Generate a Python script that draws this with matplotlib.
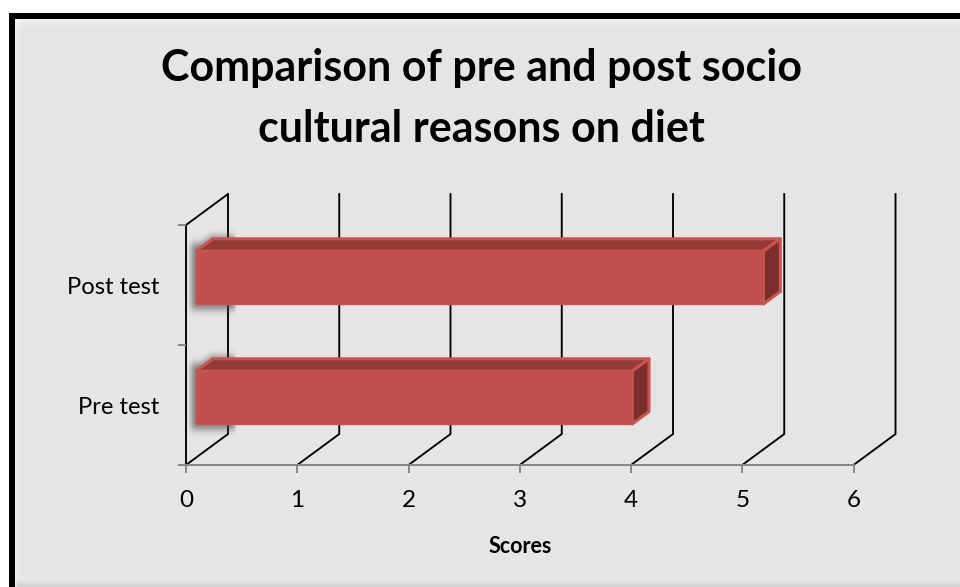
import numpy as np
import matplotlib
matplotlib.use("Agg")
import matplotlib.pyplot as plt
from matplotlib.patches import Polygon, Rectangle

# ---- data ----
categories = ["Pre test", "Post test"]
scores = [3.92, 5.10]
x_ticks = [0, 1, 2, 3, 4, 5, 6]
title = "Comparison of pre and post socio\ncultural reasons on diet"
x_label = "Scores"

# ---- style ----
W, H = 960, 587
BG = "#e5e5e5"
FRONT = "#c0504d"
TOP = "#943a38"
END = "#7b2e2d"
EDGE = "#c9534f"
GRID = "#000000"
AXIS_GREY = "#868686"
FONT = "Lato"

# depth of the 3-D box expressed in data units (x units, y units)
DX, DY = 0.3775, 0.258
F0, F1 = 0.24, 0.64           # front/back depth fractions of each bar
HALF = 0.22                   # half bar thickness (category units)

fig = plt.figure(figsize=(W / 100, H / 100), dpi=100, facecolor="white")

# chart frame: thick black border with a light grey body
def px_rect(x0, y0, x1, y1, **kw):
    r = Rectangle((x0 / W, 1 - y1 / H), (x1 - x0) / W, (y1 - y0) / H,
                  transform=fig.transFigure, zorder=-10, **kw)
    fig.patches.append(r)
    return r

px_rect(9, 13, W + 20, H + 20, facecolor="black", edgecolor="none")
px_rect(15, 19, W + 20, H + 20, facecolor=BG, edgecolor="none")
# soft bevel on the inner edge
for i, a in enumerate([0.55, 0.4, 0.28, 0.18, 0.1, 0.05]):
    px_rect(15, 19 + i * 1.4, W + 20, 20.4 + i * 1.4, facecolor="white",
            edgecolor="none", alpha=a)
    px_rect(15 + i * 1.2, 19, 16.2 + i * 1.2, 581, facecolor="white",
            edgecolor="none", alpha=a * 0.8)
for i, a in enumerate([0.04, 0.07, 0.1, 0.13, 0.16, 0.18]):
    px_rect(17, 581 + i, W + 20, 582 + i, facecolor="black",
            edgecolor="none", alpha=a * 0.5)

ax = fig.add_axes([186 / W, (H - 465) / H, 667.5 / W, 240 / H])
ax.set_facecolor("none")

y_lo, y_hi = -0.5, len(categories) - 0.5

# back wall gridlines running from the floor edge up the back plane
for xv in x_ticks:
    ax.plot([xv, xv + DX, xv + DX], [y_lo, y_lo + DY, y_hi + DY],
            color=GRID, lw=1.35, clip_on=False, zorder=1,
            solid_joinstyle="miter")
# side wall outline
ax.plot([0, 0, DX], [y_lo, y_hi, y_hi + DY], color=GRID, lw=1.35,
        clip_on=False, zorder=1, solid_joinstyle="miter")


def at(x, y, f):
    return (x + f * DX, y + f * DY)


def box_shadow(yc, v):
    # blurred shadow around the left end of each bar
    nx, ny = 120, 160
    xs = np.linspace(-0.15, 0.45, nx)
    ys = np.linspace(yc - HALF - 0.25, yc + HALF + DY + 0.1, ny)
    X, Y = np.meshgrid(xs, ys)
    sx, sy = -0.04, 0.0
    x0f, y0f = at(0, yc - HALF, F0)
    inside_front = (X >= x0f + sx) & (X <= v) & (Y >= y0f + sy - 0.05) & \
        (Y <= y0f + 2 * HALF + sy + 0.06)
    xt0, yt0 = at(0, yc + HALF, F0)
    t = (Y - (yt0 + sy)) / (DY * (F1 - F0))
    xl = xt0 + sx + t * DX * (F1 - F0)
    inside_top = (t >= 0) & (t <= 1.2) & (X >= xl)
    mask = (inside_front | inside_top).astype(float)
    k = np.ones(9) / 9
    for _ in range(3):
        mask = np.apply_along_axis(lambda r: np.convolve(r, k, "same"), 1, mask)
        mask = np.apply_along_axis(lambda c: np.convolve(c, k, "same"), 0, mask)
    rgba = np.zeros((ny, nx, 4))
    rgba[..., :3] = 0.3
    rgba[..., 3] = mask * 0.65
    ax.imshow(rgba, extent=(xs[0], xs[-1], ys[0], ys[-1]), origin="lower",
              aspect="auto", zorder=2, clip_on=False, interpolation="bilinear")


for yc, v in enumerate(scores):
    box_shadow(yc, v)
    lo, hi = yc - HALF, yc + HALF
    front = [at(0, lo, F0), at(v, lo, F0), at(v, hi, F0), at(0, hi, F0)]
    top = [at(0, hi, F0), at(v, hi, F0), at(v, hi, F1), at(0, hi, F1)]
    end = [at(v, lo, F0), at(v, lo, F1), at(v, hi, F1), at(v, hi, F0)]
    ax.add_patch(Polygon(top, closed=True, facecolor=TOP, edgecolor=EDGE,
                         lw=2.2, joinstyle="round", zorder=3, clip_on=False))
    ax.add_patch(Polygon(end, closed=True, facecolor=END, edgecolor=EDGE,
                         lw=2.2, joinstyle="round", zorder=3, clip_on=False))
    ax.add_patch(Polygon(front, closed=True, facecolor=FRONT, edgecolor=EDGE,
                         lw=1.0, joinstyle="round", zorder=4, clip_on=False))

ax.set_xlim(x_ticks[0], x_ticks[-1])
ax.set_ylim(y_lo, y_hi)

# axes and ticks
for s in ("top", "right"):
    ax.spines[s].set_visible(False)
ax.spines["bottom"].set_color(AXIS_GREY)
ax.spines["bottom"].set_linewidth(1.4)
ax.spines["left"].set_visible(False)

ax.set_xticks(x_ticks)
ax.set_xticklabels([str(t) for t in x_ticks], fontsize=17.5, family=FONT)
ax.tick_params(axis="x", direction="out", length=6, width=1.4,
               color=AXIS_GREY, pad=12)

ax.set_yticks(np.arange(len(categories) + 1) - 0.5)
ax.set_yticklabels([])
ax.tick_params(axis="y", which="major", direction="out", length=6,
               width=1.4, color=AXIS_GREY)
ax.set_yticks(np.arange(len(categories)), minor=True)
ax.set_yticklabels(categories, minor=True, fontsize=17.2, family=FONT)
ax.tick_params(axis="y", which="minor", length=0, pad=19)

ax.set_xlabel(x_label, fontsize=15.5, family=FONT, fontweight="bold",
              labelpad=18)

fig.text(481 / W, 1 - 48 / H, title, ha="center", va="top", fontsize=31,
         family=FONT, fontweight="bold", linespacing=1.65)

fig.savefig("out.png", dpi=100, facecolor="white")
